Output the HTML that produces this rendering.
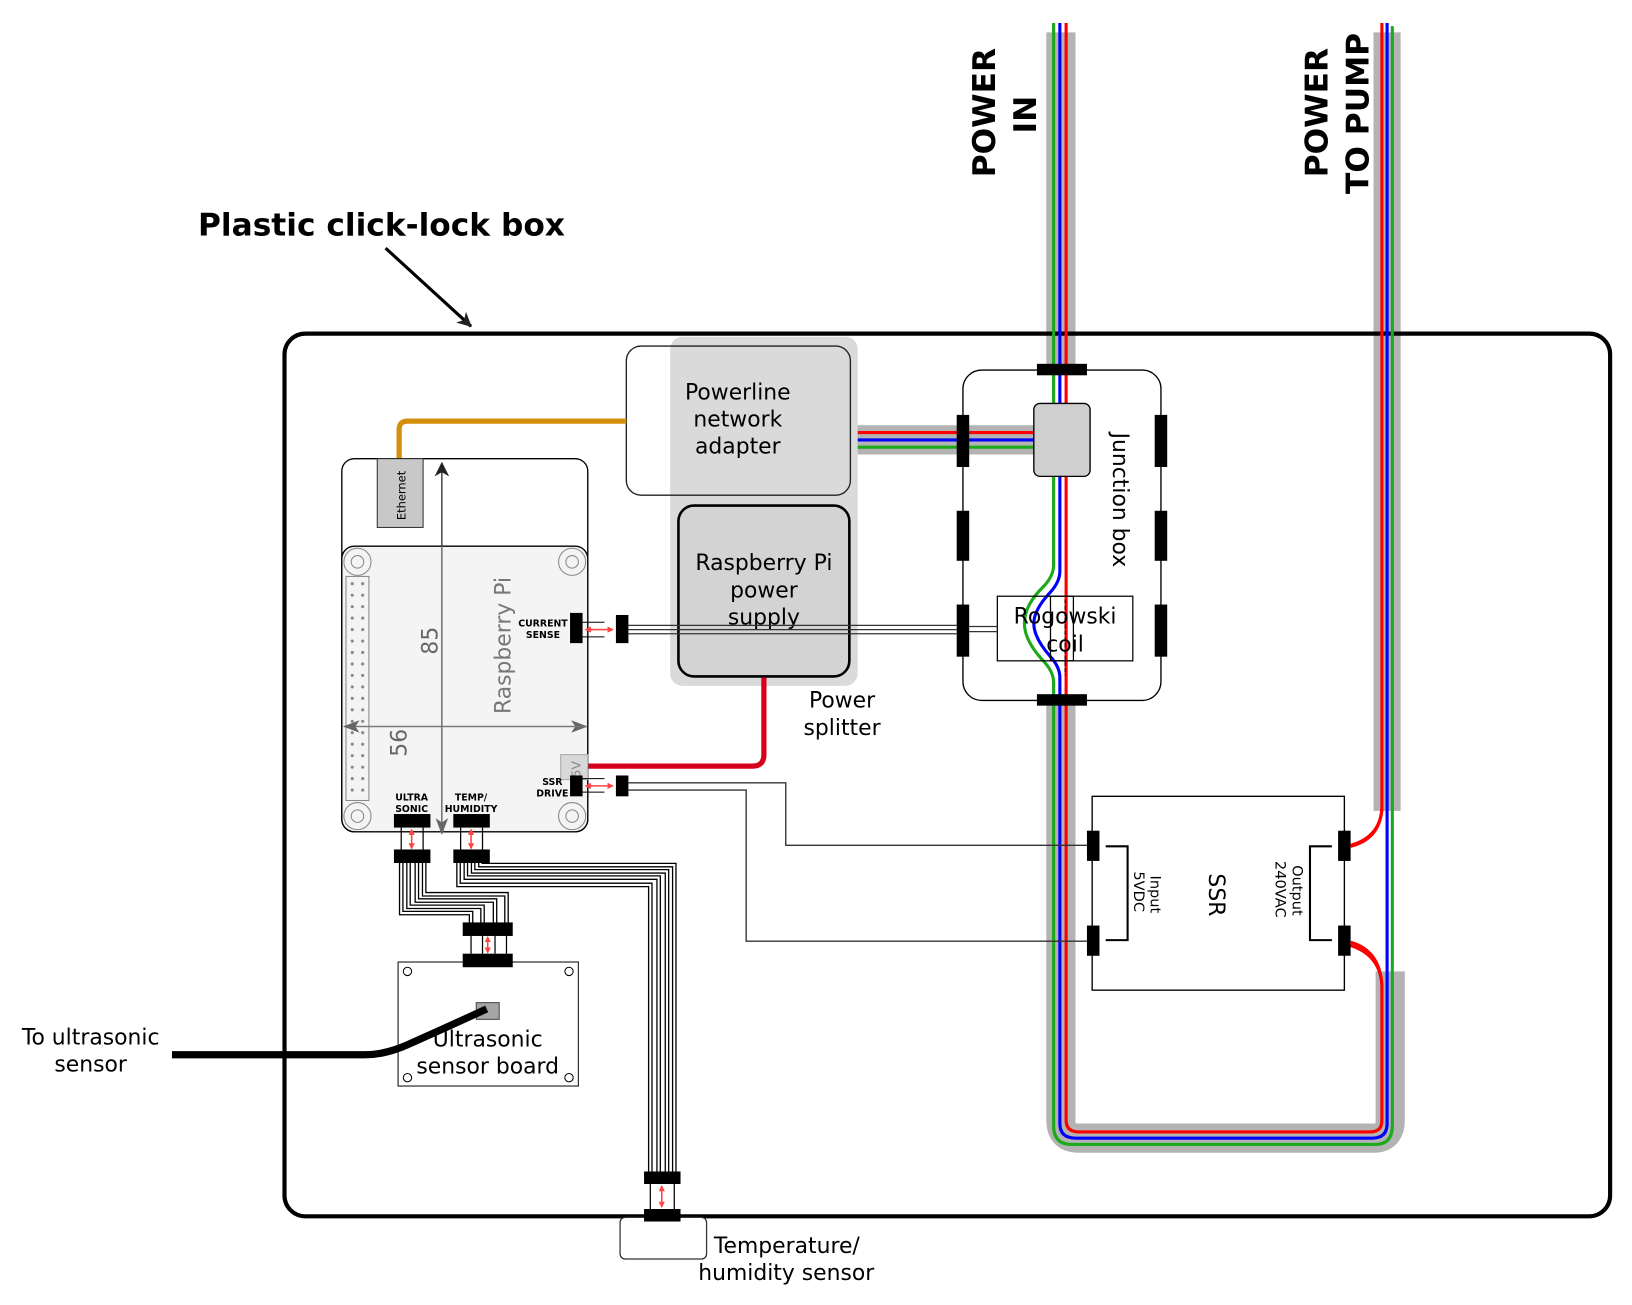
<!DOCTYPE html>
<html><head><meta charset="utf-8"><style>
html,body{margin:0;padding:0;background:#fff;}
svg{display:block;}
text{font-family:"DejaVu Sans","Liberation Sans",sans-serif;}
</style></head><body>
<svg width="1632" height="1305" viewBox="0 0 1566 1252" xmlns="http://www.w3.org/2000/svg">
<defs>
<marker id="ag" markerWidth="16" markerHeight="12" refX="15" refY="6" orient="auto" markerUnits="userSpaceOnUse"><path d="M0,0 L16,6 L0,12 L4,6z" fill="#666"/></marker>
<marker id="ad" markerWidth="14" markerHeight="14" refX="13" refY="7" orient="auto" markerUnits="userSpaceOnUse"><path d="M0,0 L14,7 L0,14 L4,7z" fill="#222"/></marker>
<marker id="ar" markerWidth="6" markerHeight="6" refX="5" refY="3" orient="auto" markerUnits="userSpaceOnUse"><path d="M0,0 L6,3 L0,6z" fill="#f44"/></marker>
<marker id="as" markerWidth="6" markerHeight="6" refX="1" refY="3" orient="auto" markerUnits="userSpaceOnUse"><path d="M6,0 L0,3 L6,6z" fill="#f44"/></marker>
</defs>

<text x="190" y="226" font-size="30" font-weight="bold">Plastic click-lock box</text>
<line x1="370" y1="238" x2="452" y2="313" stroke="#000" stroke-width="3" marker-end="url(#ad)"/>

<text transform="translate(955,170) rotate(-90)" font-size="30" font-weight="bold">POWER</text>
<text transform="translate(994,128) rotate(-90)" font-size="30" font-weight="bold">IN</text>
<text transform="translate(1274,170) rotate(-90)" font-size="30" font-weight="bold">POWER</text>
<text transform="translate(1313,186) rotate(-90)" font-size="30" font-weight="bold">TO PUMP</text>

<path d="M1018,31 V340" stroke="#b3b3b3" stroke-width="28" fill="none"/>
<path d="M1018,672 V1075 Q1018,1092 1035,1092 H1318 Q1334,1092 1334,1075 V932" stroke="#b3b3b3" stroke-width="28" fill="none"/>
<path d="M1331,31 V778" stroke="#b3b3b3" stroke-width="26" fill="none"/>
<rect x="1004" y="336" width="28" height="20" fill="#b3b3b3"/>
<path d="M822,422 H992" stroke="#b3b3b3" stroke-width="28"/>

<rect x="273" y="320" width="1272" height="847" rx="20" fill="none" stroke="#000" stroke-width="4"/>

<line x1="1011" y1="22" x2="1011" y2="390" stroke="#1aaa1a" stroke-width="3"/>
<line x1="1017" y1="22" x2="1017" y2="390" stroke="#00f" stroke-width="3"/>
<line x1="1023" y1="22" x2="1023" y2="390" stroke="#f00" stroke-width="3"/>
<line x1="1326" y1="22" x2="1326" y2="778" stroke="#f00" stroke-width="3"/>
<line x1="1331" y1="22" x2="1331" y2="1080" stroke="#00f" stroke-width="3"/>
<line x1="1336" y1="25" x2="1336" y2="1080" stroke="#1aaa1a" stroke-width="3"/>
<path d="M1326,776 Q1324,805 1292,812" stroke="#f00" stroke-width="3" fill="none"/>
<path d="M1292,906 Q1324,914 1326,945 V1075 Q1326,1086 1315,1086 H1035 Q1023,1086 1023,1075 V455" stroke="#f00" stroke-width="3" fill="none"/>
<path d="M1331,1078 Q1331,1092 1317,1092 H1032 Q1017,1092 1017,1078 V650 Q1017,640 1008,630 Q992,612 992,598 Q992,585 1008,568 Q1017,558 1017,548 V455" stroke="#00f" stroke-width="3" fill="none"/>
<path d="M1336,1080 Q1336,1098 1320,1098 H1028 Q1011,1098 1011,1080 V655 Q1011,645 1002,635 Q983,615 983,598 Q983,580 1002,562 Q1011,552 1011,542 V455" stroke="#1aaa1a" stroke-width="3" fill="none"/>
<line x1="822" y1="415" x2="992" y2="415" stroke="#f00" stroke-width="3"/>
<line x1="822" y1="422" x2="992" y2="422" stroke="#00f" stroke-width="3"/>
<line x1="822" y1="429" x2="992" y2="429" stroke="#1aaa1a" stroke-width="3"/>

<rect x="924" y="355" width="190" height="317" rx="18" fill="none" stroke="#000" stroke-width="1.3"/>
<rect x="995" y="349" width="48" height="11" fill="#000"/>
<rect x="995" y="666" width="48" height="11" fill="#000"/>
<rect x="918" y="398" width="12" height="50" fill="#000"/>
<rect x="918" y="490" width="12" height="48" fill="#000"/>
<rect x="918" y="580" width="12" height="50" fill="#000"/>
<rect x="1108" y="398" width="12" height="50" fill="#000"/>
<rect x="1108" y="490" width="12" height="48" fill="#000"/>
<rect x="1108" y="580" width="12" height="50" fill="#000"/>
<rect x="992" y="387" width="54" height="70" rx="6" fill="#cfcfcf" stroke="#000" stroke-width="1.3"/>
<text transform="translate(1068,415) rotate(90)" font-size="21">Junction box</text>
<rect x="957" y="572" width="130" height="62" fill="none" stroke="#000" stroke-width="1.2"/>
<rect x="1008" y="572" width="22" height="62" fill="none" stroke="#000" stroke-width="1.2"/>
<line x1="1022" y1="575" x2="1022" y2="648" stroke="#000" stroke-width="1" stroke-dasharray="4,2"/>
<text x="1022" y="598" font-size="21" text-anchor="middle">Rogowski</text>
<text x="1022" y="625" font-size="21" text-anchor="middle">coil</text>

<rect x="601" y="332" width="215" height="143" rx="14" fill="#fff"/>
<rect x="643" y="323" width="180" height="335" rx="12" fill="#dadada"/>
<rect x="601" y="332" width="215" height="143" rx="14" fill="none" stroke="#222" stroke-width="1.3"/>
<text x="708" y="383" font-size="21" text-anchor="middle">Powerline</text>
<text x="708" y="409" font-size="21" text-anchor="middle">network</text>
<text x="708" y="435" font-size="21" text-anchor="middle">adapter</text>
<rect x="651" y="485" width="164" height="164" rx="15" fill="#d3d3d3" stroke="#000" stroke-width="2.5"/>
<text x="733" y="547" font-size="21" text-anchor="middle">Raspberry Pi</text>
<text x="733" y="573" font-size="21" text-anchor="middle">power</text>
<text x="733" y="599" font-size="21" text-anchor="middle">supply</text>
<text x="808" y="679" font-size="21" text-anchor="middle">Power</text>
<text x="808" y="705" font-size="21" text-anchor="middle">splitter</text>

<path d="M383,440 V412 Q383,404 391,404 H601" stroke="#d4900a" stroke-width="5" fill="none"/>
<path d="M564,735 H722 Q733,735 733,724 V650" stroke="#d6001c" stroke-width="5" fill="none"/>

<rect x="328" y="440" width="236" height="358" rx="12" fill="#fff" stroke="#000" stroke-width="1.3"/>
<rect x="328" y="524" width="236" height="274" rx="12" fill="#f4f4f4" stroke="#000" stroke-width="1.3"/>
<rect x="362" y="440" width="44" height="66" fill="#c8c8c8" stroke="#333" stroke-width="1"/>
<text transform="translate(389,499) rotate(-90)" font-size="11">Ethernet</text>
<g fill="none" stroke="#888" stroke-width="1">
<circle cx="343" cy="539" r="13"/><circle cx="343" cy="539" r="6"/>
<circle cx="549" cy="539" r="13"/><circle cx="549" cy="539" r="6"/>
<circle cx="343" cy="783" r="13"/><circle cx="343" cy="783" r="6"/>
<circle cx="549" cy="783" r="13"/><circle cx="549" cy="783" r="6"/>
<rect x="332" y="553" width="22" height="215"/>
</g>
<line x1="424" y1="797" x2="424" y2="444" stroke="#333" stroke-width="1.3" marker-end="url(#ad)"/>
<line x1="424" y1="524" x2="424" y2="800" stroke="#777" stroke-width="1.3" marker-end="url(#ag)"/>
<line x1="330" y1="697" x2="563" y2="697" stroke="#777" stroke-width="1.3" marker-end="url(#ag)"/>
<line x1="563" y1="697" x2="330" y2="697" stroke="#777" stroke-width="1.3" marker-end="url(#ag)"/>
<text transform="translate(420,628) rotate(-90)" font-size="21" fill="#666">85</text>
<text transform="translate(390,726) rotate(-90)" font-size="21" fill="#666">56</text>
<text transform="translate(490,685) rotate(-90)" font-size="21" fill="#777">Raspberry Pi</text>
<rect x="538" y="724" width="26" height="24" fill="#d8d8d8" stroke="#aaa" stroke-width="1"/>
<text transform="translate(557,746) rotate(-90)" font-size="12" fill="#888">5V</text>

<text x="521" y="601" font-size="9" font-weight="bold" text-anchor="middle">CURRENT</text>
<text x="521" y="612" font-size="9" font-weight="bold" text-anchor="middle">SENSE</text>
<rect x="547" y="588" width="12" height="29" fill="#000"/>
<rect x="591" y="590" width="12" height="27" fill="#000"/>
<line x1="559" y1="597" x2="580" y2="597" stroke="#000"/>
<line x1="559" y1="611" x2="580" y2="611" stroke="#000"/>
<line x1="562" y1="604" x2="588" y2="604" stroke="#f44" stroke-width="1.5" marker-end="url(#ar)" marker-start="url(#as)"/>
<line x1="603" y1="600" x2="918" y2="600" stroke="#333" stroke-width="1.2"/>
<line x1="603" y1="604" x2="918" y2="604" stroke="#333" stroke-width="1.2"/>
<line x1="603" y1="608" x2="918" y2="608" stroke="#333" stroke-width="1.2"/>
<line x1="930" y1="601" x2="957" y2="601" stroke="#333" stroke-width="1.2"/>
<line x1="930" y1="606" x2="957" y2="606" stroke="#333" stroke-width="1.2"/>

<text x="530" y="753" font-size="9" font-weight="bold" text-anchor="middle">SSR</text>
<text x="530" y="764" font-size="9" font-weight="bold" text-anchor="middle">DRIVE</text>
<rect x="547" y="744" width="12" height="20" fill="#000"/>
<rect x="591" y="744" width="12" height="20" fill="#000"/>
<line x1="559" y1="747" x2="580" y2="747" stroke="#000"/>
<line x1="559" y1="760" x2="580" y2="760" stroke="#000"/>
<line x1="562" y1="754" x2="588" y2="754" stroke="#f44" stroke-width="1.5" marker-end="url(#ar)" marker-start="url(#as)"/>
<path d="M603,751 H754 V811 H1045" stroke="#333" stroke-width="1.3" fill="none"/>
<path d="M603,758 H716 V903 H1045" stroke="#333" stroke-width="1.3" fill="none"/>

<rect x="1048" y="764" width="242" height="186" fill="#fff" stroke="#000" stroke-width="1.3"/>
<rect x="1043" y="797" width="12" height="29" fill="#000"/>
<rect x="1043" y="888" width="12" height="29" fill="#000"/>
<rect x="1284" y="797" width="12" height="29" fill="#000"/>
<rect x="1284" y="888" width="12" height="29" fill="#000"/>
<path d="M1061,812 H1082 V902 H1061" stroke="#000" stroke-width="2" fill="none"/>
<path d="M1278,812 H1257 V902 H1278" stroke="#000" stroke-width="2" fill="none"/>
<text transform="translate(1160,838) rotate(90)" font-size="21">SSR</text>
<text transform="translate(1104,840) rotate(90)" font-size="14">Input</text>
<text transform="translate(1088,836) rotate(90)" font-size="14">5VDC</text>
<text transform="translate(1240,830) rotate(90)" font-size="14">Output</text>
<text transform="translate(1224,826) rotate(90)" font-size="14">240VAC</text>
<path d="M1326,776 Q1324,805 1296,812" stroke="#f00" stroke-width="3" fill="none"/>
<path d="M1296,904 Q1324,912 1326,945" stroke="#f00" stroke-width="3" fill="none"/>

<text x="395" y="768" font-size="9" font-weight="bold" text-anchor="middle">ULTRA</text>
<text x="395" y="779" font-size="9" font-weight="bold" text-anchor="middle">SONIC</text>
<text x="452" y="768" font-size="9" font-weight="bold" text-anchor="middle">TEMP/</text>
<text x="452" y="779" font-size="9" font-weight="bold" text-anchor="middle">HUMIDITY</text>
<rect x="378" y="781" width="35" height="13" fill="#000"/>
<rect x="378" y="815" width="35" height="13" fill="#000"/>
<rect x="435" y="781" width="35" height="13" fill="#000"/>
<rect x="435" y="815" width="35" height="13" fill="#000"/>
<g stroke="#000" stroke-width="1.2">
<line x1="385" y1="794" x2="385" y2="815"/><line x1="406" y1="794" x2="406" y2="815"/>
<line x1="442" y1="794" x2="442" y2="815"/><line x1="463" y1="794" x2="463" y2="815"/>
</g>
<line x1="395" y1="796" x2="395" y2="814" stroke="#f44" stroke-width="1.5" marker-end="url(#ar)" marker-start="url(#as)"/>
<line x1="452" y1="796" x2="452" y2="814" stroke="#f44" stroke-width="1.5" marker-end="url(#ar)" marker-start="url(#as)"/>

<g fill="none" stroke="#000" stroke-width="4.5">
<path d="M385,828 V876 H452 V887"/>
<path d="M392,828 V870 H463 V887"/>
<path d="M400,828 V864 H475 V887"/>
<path d="M407,828 V858 H486 V887"/>
</g>
<g fill="none" stroke="#fff" stroke-width="2">
<path d="M385,828 V876 H452 V887"/>
<path d="M392,828 V870 H463 V887"/>
<path d="M400,828 V864 H475 V887"/>
<path d="M407,828 V858 H486 V887"/>
</g>
<g fill="none" stroke="#000" stroke-width="4.5">
<path d="M440,828 V849 H624 V1125"/>
<path d="M447,828 V842 H632 V1125"/>
<path d="M454,828 V836 H640 V1125"/>
<path d="M461,828 V830 H647 V1125"/>
</g>
<g fill="none" stroke="#fff" stroke-width="2">
<path d="M440,828 V849 H624 V1125"/>
<path d="M447,828 V842 H632 V1125"/>
<path d="M454,828 V836 H640 V1125"/>
<path d="M461,828 V830 H647 V1125"/>
</g>

<rect x="444" y="885" width="48" height="13" fill="#000"/>
<g stroke="#000" stroke-width="1.2">
<line x1="452" y1="898" x2="452" y2="915"/><line x1="463" y1="898" x2="463" y2="915"/>
<line x1="475" y1="898" x2="475" y2="915"/><line x1="486" y1="898" x2="486" y2="915"/>
</g>
<line x1="468" y1="899" x2="468" y2="914" stroke="#f44" stroke-width="1.5" marker-end="url(#ar)" marker-start="url(#as)"/>
<rect x="382" y="923" width="173" height="119" fill="#fff" stroke="#333" stroke-width="1.2"/>
<rect x="444" y="915" width="48" height="13" fill="#000"/>
<g fill="#fff" stroke="#000" stroke-width="1">
<circle cx="391" cy="932" r="4"/><circle cx="546" cy="932" r="4"/>
<circle cx="391" cy="1034" r="4"/><circle cx="546" cy="1034" r="4"/>
</g>
<rect x="457" y="962" width="22" height="16" fill="#a6a6a6" stroke="#444" stroke-width="1"/>
<text x="468" y="1004" font-size="21" text-anchor="middle">Ultrasonic</text>
<text x="468" y="1030" font-size="21" text-anchor="middle">sensor board</text>
<path d="M165,1012 H350 Q370,1012 392,1002 Q430,985 467,968" stroke="#000" stroke-width="7" fill="none"/>
<text x="87" y="1002" font-size="21" text-anchor="middle">To ultrasonic</text>
<text x="87" y="1028" font-size="21" text-anchor="middle">sensor</text>

<rect x="618" y="1124" width="35" height="12" fill="#000"/>
<g stroke="#000" stroke-width="1.2">
<line x1="624" y1="1136" x2="624" y2="1160"/><line x1="647" y1="1136" x2="647" y2="1160"/>
</g>
<line x1="635" y1="1138" x2="635" y2="1158" stroke="#f44" stroke-width="1.5" marker-end="url(#ar)" marker-start="url(#as)"/>
<rect x="595" y="1168" width="83" height="40" rx="5" fill="#fff" stroke="#333" stroke-width="1.2"/>
<rect x="618" y="1160" width="35" height="12" fill="#000"/>
<text x="685" y="1202" font-size="21">Temperature/</text>
<text x="670" y="1228" font-size="21">humidity sensor</text>

<g fill="#888">
<circle cx="338" cy="560" r="1.5"/><circle cx="348" cy="560" r="1.5"/>
<circle cx="338" cy="571" r="1.5"/><circle cx="348" cy="571" r="1.5"/>
<circle cx="338" cy="582" r="1.5"/><circle cx="348" cy="582" r="1.5"/>
<circle cx="338" cy="593" r="1.5"/><circle cx="348" cy="593" r="1.5"/>
<circle cx="338" cy="604" r="1.5"/><circle cx="348" cy="604" r="1.5"/>
<circle cx="338" cy="615" r="1.5"/><circle cx="348" cy="615" r="1.5"/>
<circle cx="338" cy="626" r="1.5"/><circle cx="348" cy="626" r="1.5"/>
<circle cx="338" cy="637" r="1.5"/><circle cx="348" cy="637" r="1.5"/>
<circle cx="338" cy="648" r="1.5"/><circle cx="348" cy="648" r="1.5"/>
<circle cx="338" cy="659" r="1.5"/><circle cx="348" cy="659" r="1.5"/>
<circle cx="338" cy="670" r="1.5"/><circle cx="348" cy="670" r="1.5"/>
<circle cx="338" cy="681" r="1.5"/><circle cx="348" cy="681" r="1.5"/>
<circle cx="338" cy="692" r="1.5"/><circle cx="348" cy="692" r="1.5"/>
<circle cx="338" cy="703" r="1.5"/><circle cx="348" cy="703" r="1.5"/>
<circle cx="338" cy="714" r="1.5"/><circle cx="348" cy="714" r="1.5"/>
<circle cx="338" cy="725" r="1.5"/><circle cx="348" cy="725" r="1.5"/>
<circle cx="338" cy="736" r="1.5"/><circle cx="348" cy="736" r="1.5"/>
<circle cx="338" cy="747" r="1.5"/><circle cx="348" cy="747" r="1.5"/>
<circle cx="338" cy="758" r="1.5"/><circle cx="348" cy="758" r="1.5"/>
</g>
</svg>
</body></html>
